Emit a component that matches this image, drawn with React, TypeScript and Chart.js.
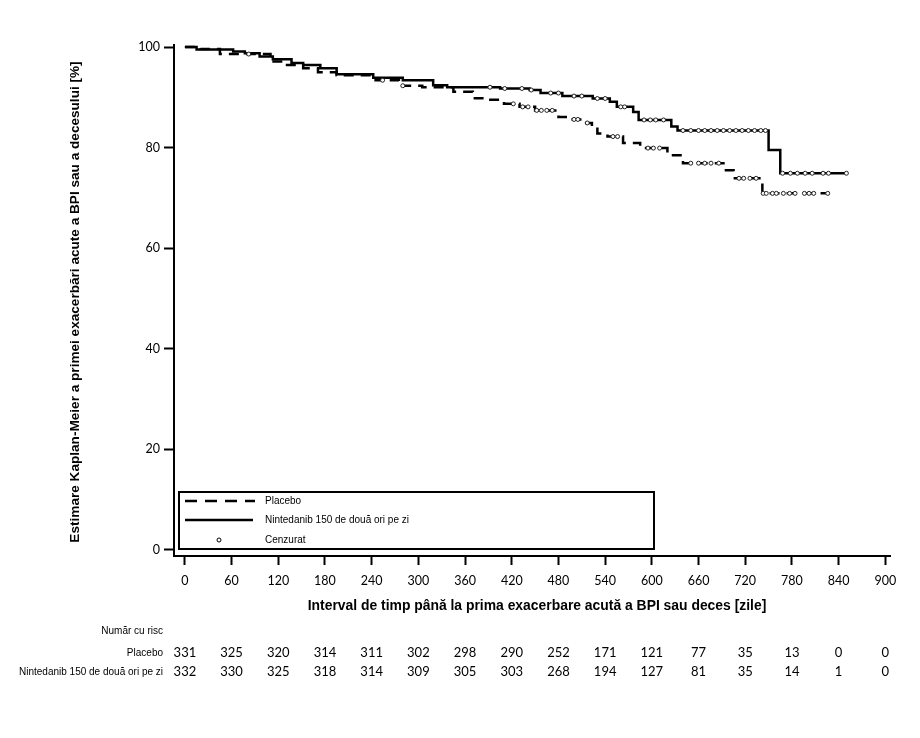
import React, { useEffect, useRef } from "react";
import { Chart, registerables } from "chart.js";

Chart.register(...registerables);

// ---- data ----
const xTicks = [0, 60, 120, 180, 240, 300, 360, 420, 480, 540, 600, 660, 720, 780, 840, 900];
const yTicks = [0, 20, 40, 60, 80, 100];

const placeboDays = [0, 20, 45, 110, 128, 152, 171, 195, 245, 275, 305, 345, 370, 390, 410, 430, 450, 480, 492, 513, 523, 530, 543, 563, 585, 620, 640, 692, 705, 742, 826];
const placeboSurv = [100, 99.6, 98.6, 97.1, 96.4, 95.8, 95.0, 94.4, 93.4, 92.3, 92.0, 91.1, 89.8, 89.5, 88.7, 88.1, 87.4, 86.1, 85.6, 84.9, 84.2, 82.8, 82.2, 80.9, 79.9, 78.5, 76.9, 75.5, 73.9, 70.9, 70.9];

const nintedanibDays = [0, 15, 62, 77, 96, 113, 137, 152, 174, 195, 242, 280, 319, 337, 405, 443, 457, 485, 524, 546, 555, 576, 583, 625, 633, 750, 765, 850];
const nintedanibSurv = [100, 99.5, 99.1, 98.75, 98.1, 97.55, 96.8, 96.4, 95.8, 94.6, 93.9, 93.4, 92.4, 92.0, 91.75, 91.45, 90.85, 90.25, 89.76, 89.1, 88.1, 87.1, 85.5, 84.2, 83.4, 79.5, 74.9, 74.9];

const placeboCensored = [82, 254, 280, 422, 434, 441, 452, 458, 465, 472, 500, 505, 517, 550, 556, 595, 602, 610, 650, 660, 668, 676, 686, 712, 718, 726, 734, 743, 747, 755, 760, 769, 777, 784, 796, 802, 808, 826];
const nintedanibCensored = [392, 411, 433, 445, 470, 480, 500, 510, 530, 540, 560, 565, 590, 598, 605, 615, 640, 650, 660, 668, 676, 684, 692, 700, 708, 716, 724, 732, 740, 746, 768, 778, 787, 797, 806, 820, 827, 850];

const riskHeader = "Număr cu risc";
const riskGroups = ["Placebo", "Nintedanib 150 de două ori pe zi"];
const placeboAtRisk = [331, 325, 320, 314, 311, 302, 298, 290, 252, 171, 121, 77, 35, 13, 0, 0];
const nintedanibAtRisk = [332, 330, 325, 318, 314, 309, 305, 303, 268, 194, 127, 81, 35, 14, 1, 0];

const legendLabels = ["Placebo", "Nintedanib 150 de două ori pe zi", "Cenzurat"];
const xTitle = "Interval de timp până la prima exacerbare acută a BPI sau deces [zile]";
const yTitle = "Estimare Kaplan-Meier a primei exacerbări acute a BPI sau a decesului [%]";

// ---- helpers ----
const toPoints = (days: number[], surv: number[]) => days.map((d, i) => ({ x: d, y: surv[i] }));
const stepAt = (days: number[], surv: number[], t: number) => {
  let v = surv[0];
  for (let i = 0; i < days.length; i++) if (days[i] <= t) v = surv[i];
  return v;
};
const censorPoints = (c: number[], days: number[], surv: number[]) => c.map((t) => ({ x: t, y: stepAt(days, surv, t) }));

const SANS = "'Liberation Sans', Arial, sans-serif";
const NUM = "Lato, 'Open Sans', sans-serif";

const annotPlugin = {
  id: "annot",
  afterDraw(chart: any) {
    const ctx = chart.ctx as CanvasRenderingContext2D;
    const xs = chart.scales.x;
    ctx.save();
    ctx.fillStyle = "#000";
    ctx.strokeStyle = "#000";

    // y title
    ctx.save();
    ctx.translate(75, 302);
    ctx.rotate(-Math.PI / 2);
    ctx.font = `bold 13.6px ${SANS}`;
    ctx.textAlign = "center";
    ctx.textBaseline = "middle";
    ctx.fillText(yTitle, 0, 0);
    ctx.restore();

    // x title
    ctx.font = `bold 13.9px ${SANS}`;
    ctx.textAlign = "center";
    ctx.textBaseline = "middle";
    ctx.fillText(xTitle, 537, 606);

    // legend box
    const bx = 179, by = 492, bw = 475, bh = 57;
    ctx.lineWidth = 2;
    ctx.strokeRect(bx, by, bw, bh);
    const rowsY = [501, 520, 540];
    ctx.lineWidth = 2.5;
    ctx.setLineDash([12, 8]);
    ctx.beginPath();
    ctx.moveTo(185, rowsY[0]);
    ctx.lineTo(255, rowsY[0]);
    ctx.stroke();
    ctx.setLineDash([]);
    ctx.beginPath();
    ctx.moveTo(185, rowsY[1]);
    ctx.lineTo(253, rowsY[1]);
    ctx.stroke();
    ctx.lineWidth = 1;
    ctx.beginPath();
    ctx.arc(219, rowsY[2], 2, 0, Math.PI * 2);
    ctx.fillStyle = "#fff";
    ctx.fill();
    ctx.stroke();
    ctx.fillStyle = "#000";
    ctx.font = `10px ${SANS}`;
    ctx.textAlign = "left";
    ctx.textBaseline = "middle";
    legendLabels.forEach((l, i) => ctx.fillText(l, 265, rowsY[i]));

    // risk table
    ctx.textAlign = "right";
    ctx.font = `10px ${SANS}`;
    ctx.fillText(riskHeader, 163, 631);
    ctx.fillText(riskGroups[0], 163, 653);
    ctx.fillText(riskGroups[1], 163, 672);
    ctx.textAlign = "center";
    ctx.font = `13px ${NUM}`;
    xTicks.forEach((t, i) => {
      const px = xs.getPixelForValue(t);
      ctx.fillText(String(placeboAtRisk[i]), px, 653);
      ctx.fillText(String(nintedanibAtRisk[i]), px, 672);
    });
    ctx.restore();
  },
};

export default function App() {
  const ref = useRef<HTMLCanvasElement | null>(null);
  useEffect(() => {
    if (!ref.current) return;
    const chart = new Chart(ref.current, {
      type: "scatter",
      data: {
        datasets: [
          {
            label: "Cenzurat Placebo",
            data: censorPoints(placeboCensored, placeboDays, placeboSurv),
            showLine: false,
            pointRadius: 2,
            pointBorderWidth: 1,
            pointBackgroundColor: "#fff",
            pointBorderColor: "#222",
            order: 0,
          },
          {
            label: "Cenzurat Nintedanib",
            data: censorPoints(nintedanibCensored, nintedanibDays, nintedanibSurv),
            showLine: false,
            pointRadius: 2,
            pointBorderWidth: 1,
            pointBackgroundColor: "#fff",
            pointBorderColor: "#222",
            order: 0,
          },
          {
            label: "Placebo",
            data: toPoints(placeboDays, placeboSurv),
            showLine: true,
            stepped: true,
            borderColor: "#000",
            borderWidth: 2.5,
            borderDash: [10, 7],
            pointRadius: 0,
            fill: false,
            order: 1,
          },
          {
            label: "Nintedanib 150 de două ori pe zi",
            data: toPoints(nintedanibDays, nintedanibSurv),
            showLine: true,
            stepped: true,
            borderColor: "#000",
            borderWidth: 2.5,
            pointRadius: 0,
            fill: false,
            order: 1,
          },
        ],
      } as any,
      options: {
        animation: false,
        responsive: false,
        devicePixelRatio: 1,
        layout: { padding: { left: 0, right: 30, top: 45, bottom: 0 } },
        plugins: { legend: { display: false }, tooltip: { enabled: false } },
        scales: {
          x: {
            type: "linear",
            min: -14,
            max: 906,
            afterBuildTicks: (s: any) => {
              s.ticks = xTicks.map((v) => ({ value: v }));
            },
            afterFit: (s: any) => {
              s.height = 182;
            },
            grid: { drawOnChartArea: false, drawTicks: true, tickLength: 9, tickWidth: 2, tickColor: "#000" },
            border: { display: true, color: "#000", width: 2 },
            ticks: { color: "#000", font: { family: NUM, size: 12.5 }, padding: 8, maxRotation: 0, autoSkip: false },
          },
          y: {
            type: "linear",
            min: -1.2,
            max: 100.4,
            afterBuildTicks: (s: any) => {
              s.ticks = yTicks.map((v) => ({ value: v }));
            },
            afterFit: (s: any) => {
              s.width = 174;
            },
            grid: { drawOnChartArea: false, drawTicks: true, tickLength: 10, tickWidth: 2, tickColor: "#000" },
            border: { display: true, color: "#000", width: 2 },
            ticks: { color: "#000", font: { family: NUM, size: 12.5 }, padding: 4, autoSkip: false },
          },
        },
      } as any,
      plugins: [annotPlugin],
    });
    return () => chart.destroy();
  }, []);
  return (
    <div style={{ position: "absolute", left: 0, top: 0, width: 920, height: 738, background: "#fff" }}>
      <canvas ref={ref} width={920} height={738} />
    </div>
  );
}
